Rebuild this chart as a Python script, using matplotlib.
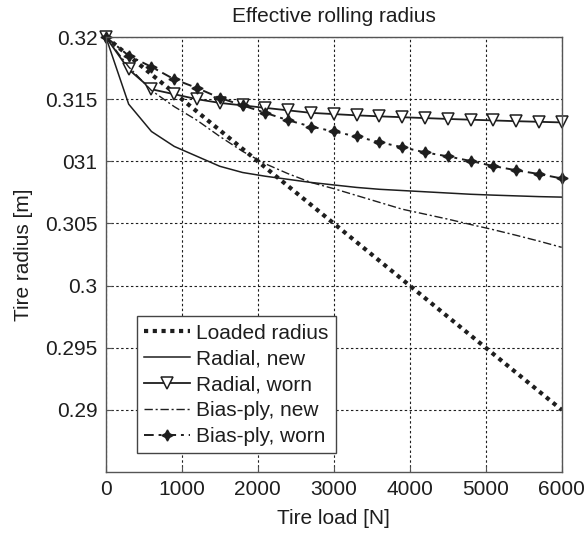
import matplotlib
matplotlib.use('Agg')
import matplotlib.pyplot as plt
import numpy as np

plt.rcParams['font.family'] = ['Liberation Sans', 'DejaVu Sans']

# tire load [N], one point every 300 N
load = [0, 300, 600, 900, 1200, 1500, 1800, 2100, 2400, 2700, 3000,
        3300, 3600, 3900, 4200, 4500, 4800, 5100, 5400, 5700, 6000]

loaded_radius = [0.3200, 0.3185, 0.3170, 0.3155, 0.3140, 0.3125, 0.3110, 0.3095, 0.3080, 0.3065, 0.3050,
                 0.3035, 0.3020, 0.3005, 0.2990, 0.2975, 0.2960, 0.2945, 0.2930, 0.2915, 0.2900]
radial_new = [0.3200, 0.3146, 0.3124, 0.3112, 0.3104, 0.3096, 0.3091, 0.3088, 0.30855, 0.3083, 0.3081,
              0.3079, 0.30775, 0.30765, 0.30755, 0.30745, 0.30735, 0.30728, 0.30722, 0.30716, 0.30712]
radial_worn = [0.3200, 0.3174, 0.3158, 0.3154, 0.3150, 0.3147, 0.3145, 0.3143, 0.3141, 0.3139, 0.3138,
               0.3137, 0.31362, 0.31355, 0.31348, 0.31341, 0.31335, 0.31329, 0.31323, 0.31318, 0.31313]
bias_new = [0.3200, 0.3176, 0.3157, 0.3144, 0.3133, 0.3120, 0.3108, 0.3098, 0.3090, 0.3083, 0.3078,
            0.30725, 0.3067, 0.30615, 0.30575, 0.30535, 0.30492, 0.3045, 0.30405, 0.30358, 0.30308]
bias_worn = [0.3200, 0.3185, 0.3176, 0.3166, 0.3159, 0.3151, 0.3145, 0.3139, 0.3133, 0.3128, 0.3124,
             0.3120, 0.31154, 0.31114, 0.31072, 0.3104, 0.31003, 0.30962, 0.30928, 0.30898, 0.30862]

x_ticks = [0, 1000, 2000, 3000, 4000, 5000, 6000]
y_ticks = [0.29, 0.295, 0.3, 0.305, 0.31, 0.315, 0.32]
y_ticklabels = ['0.29', '0.295', '0.3', '0.305', '031', '0.315', '0.32']

fs = 15
ink = '#1e1e1e'

fig = plt.figure(figsize=(5.84, 5.33), dpi=100)
ax = fig.add_axes([0.1813, 0.1144, 0.7805, 0.8161])

ax.plot(load, loaded_radius, color=ink, lw=3, ls=(0, (1, 1.1)), label='Loaded radius')
ax.plot(load, radial_new, color=ink, lw=1.1, ls='-', label='Radial, new')
ax.plot(load, radial_worn, color=ink, lw=1.3, ls='-', marker='v', markersize=9,
        markerfacecolor='white', markeredgecolor=ink, markeredgewidth=1.1,
        clip_on=False, label='Radial, worn')
ax.plot(load, bias_new, color=ink, lw=1.0, ls=(0, (6, 2, 1.5, 2)), label='Bias-ply, new')
ax.plot(load, bias_worn, color=ink, lw=1.4, ls=(0, (5, 2.5, 1.5, 2.5)), marker=(4, 1, 0),
        markersize=8, markerfacecolor=ink, markeredgecolor=ink, clip_on=False,
        label='Bias-ply, worn')

ax.set_xlim(0, 6000)
ax.set_ylim(0.285, 0.32)
ax.set_xticks(x_ticks)
ax.set_yticks(y_ticks)
ax.set_yticklabels(y_ticklabels)
ax.grid(True, color=ink, ls=(0, (2.2, 2.2)), lw=0.8)
ax.set_axisbelow(True)

for s in ax.spines.values():
    s.set_color('#555555')
    s.set_linewidth(1.0)
ax.tick_params(direction='in', length=4, width=0.8, color='#555555',
               labelsize=fs, labelcolor=ink, pad=6)

ax.set_title('Effective rolling radius', fontsize=fs, color=ink, pad=11)
ax.set_xlabel('Tire load [N]', fontsize=fs, color=ink, labelpad=7)
ax.set_ylabel('Tire radius [m]', fontsize=fs, color=ink, labelpad=9)

leg = ax.legend(loc='lower left', bbox_to_anchor=(0.0676, 0.043), fontsize=fs,
                frameon=True, fancybox=False, framealpha=1, edgecolor='#444444',
                handlelength=2.2, handletextpad=0.3, labelspacing=0.33,
                borderpad=0.35, borderaxespad=0)
leg.get_frame().set_linewidth(1.0)
for t in leg.get_texts():
    t.set_color(ink)

fig.savefig('out.png', dpi=100)
